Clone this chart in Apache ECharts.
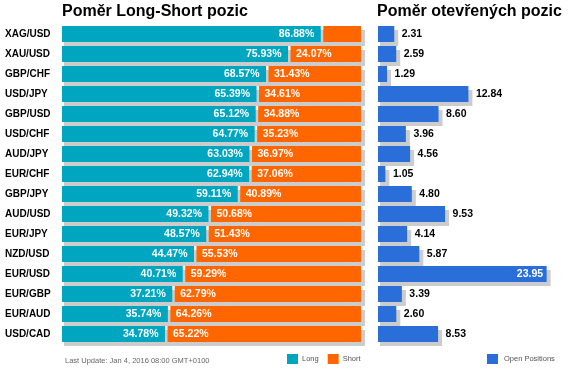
<!DOCTYPE html>
<html><head><meta charset="utf-8">
<script src="https://cdn.jsdelivr.net/npm/echarts@6/dist/echarts.min.js"></script>
<style>html,body{margin:0;padding:0;background:#fff}#c{width:571px;height:373px}</style>
</head><body><div id="c"></div>
<script>
const categories = ['XAG/USD','XAU/USD','GBP/CHF','USD/JPY','GBP/USD','USD/CHF','AUD/JPY','EUR/CHF','GBP/JPY','AUD/USD','EUR/JPY','NZD/USD','EUR/USD','EUR/GBP','EUR/AUD','USD/CAD'];
const longPct = [86.88,75.93,68.57,65.39,65.12,64.77,63.03,62.94,59.11,49.32,48.57,44.47,40.71,37.21,35.74,34.78];
const shortPct = [13.12,24.07,31.43,34.61,34.88,35.23,36.97,37.06,40.89,50.68,51.43,55.53,59.29,62.79,64.26,65.22];
const openPos = [2.31,2.59,1.29,12.84,8.60,3.96,4.56,1.05,4.80,9.53,4.14,5.87,23.95,3.39,2.60,8.53];

const FONT = '"Liberation Sans", Arial, sans-serif';
const TEAL = '#00A6BF', ORANGE = '#FF6600', BLUE = '#2A6FD9', SHADOW = '#CCCCCC';
const BAR_H = 16;

const chart = echarts.init(document.getElementById('c'));

function shadowLeft(params, api) {
  const i = api.value(1);
  const p0 = api.coord([0, i]), p1 = api.coord([100, i]);
  return {type:'rect', shape:{x:p0[0]+2, y:p0[1]-BAR_H/2+4, width:p1[0]-p0[0]+2, height:BAR_H}, style:{fill:SHADOW}};
}
function renderLong(params, api) {
  const v = api.value(0), i = api.value(1);
  const p0 = api.coord([0, i]), p1 = api.coord([v, i]);
  const w = p1[0]-p0[0]-1;
  const ch = [{type:'rect', shape:{x:p0[0], y:p0[1]-BAR_H/2, width:w, height:BAR_H}, style:{fill:api.visual('color')}}];
  if (w > 45) ch.push({type:'text', style:{text:v.toFixed(2)+'%', x:p1[0]-7.5, y:p0[1]+0.5, align:'right', verticalAlign:'middle', fill:'#fff', fontSize:10.5, fontWeight:'bold', fontFamily:FONT}});
  return {type:'group', children:ch};
}
function renderShort(params, api) {
  const l = api.value(0), s = api.value(1), i = api.value(2);
  const p0 = api.coord([l, i]), p1 = api.coord([l+s, i]);
  const x = p0[0]+1.5, w = p1[0]-x;
  const ch = [{type:'rect', shape:{x:x, y:p0[1]-BAR_H/2, width:w, height:BAR_H}, style:{fill:api.visual('color')}}];
  if (w > 45) ch.push({type:'text', style:{text:s.toFixed(2)+'%', x:x+5.5, y:p0[1]+0.5, align:'left', verticalAlign:'middle', fill:'#fff', fontSize:10.5, fontWeight:'bold', fontFamily:FONT}});
  return {type:'group', children:ch};
}
function shadowRight(params, api) {
  const v = api.value(0), i = api.value(1);
  const p0 = api.coord([0, i]), p1 = api.coord([v, i]);
  return {type:'rect', shape:{x:p0[0]+2, y:p0[1]-BAR_H/2+4, width:p1[0]-p0[0]+2, height:BAR_H}, style:{fill:SHADOW}};
}
function renderOpen(params, api) {
  const v = api.value(0), i = api.value(1);
  const p0 = api.coord([0, i]), p1 = api.coord([v, i]);
  const w = p1[0]-p0[0];
  const ch = [{type:'rect', shape:{x:p0[0], y:p0[1]-BAR_H/2, width:w, height:BAR_H}, style:{fill:api.visual('color')}}];
  const inside = w > 140;
  ch.push({type:'text', style:{text:v.toFixed(2), x: inside ? p1[0]-3.5 : p1[0]+7.5, y:p0[1]+0.5, align: inside ? 'right' : 'left', verticalAlign:'middle', fill: inside ? '#fff' : '#000', fontSize:10.5, fontWeight:'bold', fontFamily:FONT}});
  return {type:'group', children:ch};
}

chart.setOption({
  animation:false,
  textStyle:{fontFamily:FONT},
  title:[
    {text:'Poměr Long-Short pozic', left:62, top:4, padding:0, textStyle:{fontSize:16, fontWeight:'bold', color:'#000', fontFamily:FONT}},
    {text:'Poměr otevřených pozic', left:377, top:4, padding:0, textStyle:{fontSize:16, fontWeight:'bold', color:'#000', fontFamily:FONT}}
  ],
  legend:[
    {data:['Long','Short'], left:287, top:354, padding:0, icon:'rect', itemWidth:11, itemHeight:10, itemGap:9, textStyle:{fontSize:7.5, color:'#555', fontFamily:FONT, padding:[0,0,0,-1]}},
    {data:['Open Positions'], left:487, top:354, padding:0, icon:'rect', itemWidth:11, itemHeight:10, textStyle:{fontSize:7.5, color:'#555', fontFamily:FONT, padding:[0,0,0,1]}}
  ],
  graphic:[{type:'text', left:65, top:357, style:{text:'Last Update: Jan 4, 2016 08:00 GMT+0100', fontSize:7.5, fill:'#666', fontFamily:FONT}}],
  grid:[
    {left:62, top:24, width:299, height:320},
    {left:378, top:24, width:169, height:320}
  ],
  xAxis:[
    {gridIndex:0, type:'value', min:0, max:100, show:false},
    {gridIndex:1, type:'value', min:0, max:24, show:false}
  ],
  yAxis:[
    {gridIndex:0, type:'category', data:categories, inverse:true, axisLine:{show:false}, axisTick:{show:false}, splitLine:{show:false},
     axisLabel:{align:'left', margin:57, color:'#000', fontSize:10, fontWeight:'bold', fontFamily:FONT}},
    {gridIndex:1, type:'category', data:categories, inverse:true, show:false}
  ],
  series:[
    {name:'shadowL', type:'custom', xAxisIndex:0, yAxisIndex:0, z:1, renderItem:shadowLeft, encode:{x:0, y:1},
     data: categories.map((c,i)=>[100, i])},
    {name:'Long', type:'custom', xAxisIndex:0, yAxisIndex:0, z:2, itemStyle:{color:TEAL}, renderItem:renderLong, encode:{x:0, y:1},
     data: longPct.map((v,i)=>[v, i])},
    {name:'Short', type:'custom', xAxisIndex:0, yAxisIndex:0, z:2, itemStyle:{color:ORANGE}, renderItem:renderShort, encode:{x:1, y:2},
     data: shortPct.map((v,i)=>[longPct[i], v, i])},
    {name:'shadowR', type:'custom', xAxisIndex:1, yAxisIndex:1, z:1, renderItem:shadowRight, encode:{x:0, y:1},
     data: openPos.map((v,i)=>[v, i])},
    {name:'Open Positions', type:'custom', xAxisIndex:1, yAxisIndex:1, z:2, itemStyle:{color:BLUE}, renderItem:renderOpen, encode:{x:0, y:1},
     data: openPos.map((v,i)=>[v, i])}
  ]
});
</script></body></html>
